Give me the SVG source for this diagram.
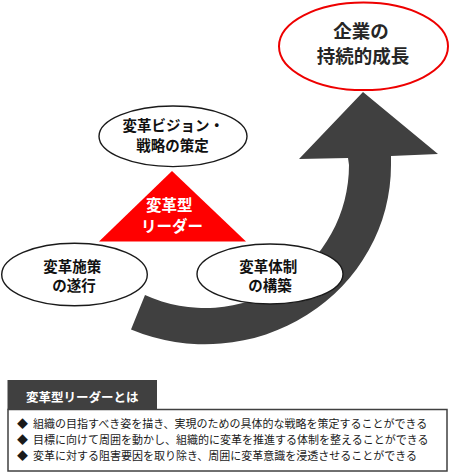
<svg xmlns="http://www.w3.org/2000/svg" width="450" height="473" viewBox="0 0 450 473">
  <style>
    .jp { font-family: "Noto Sans CJK JP", "Noto Sans", sans-serif; }
    .b { font-weight: 700; }
    .node { fill: #ffffff; stroke: #1a1a1a; stroke-width: 1.4; }
    .nt { font-size: 14.5px; fill: #111111; text-anchor: middle; }
    .bl { font-size: 11px; fill: #1a1a1a; }
  </style>
  <rect x="0" y="0" width="450" height="473" fill="#ffffff"/>

  <g id="connectors">
    <path id="growth-arrow" fill="#404040"
      d="M 299,159 L 363,92 L 438,154 L 391,156 L 391,165 A 186 179 0 0 1 131,329.5 L 145,295 A 144 143 0 0 0 349,165 L 348,158 Z"/>
  </g>

  <g id="node-goal">
    <ellipse cx="363.5" cy="46.3" rx="84.5" ry="43.8" fill="#ffffff" stroke="#ee0000" stroke-width="2"/>
    <text class="jp b" font-size="18.5" fill="#262626" text-anchor="middle">
      <tspan x="363" y="38">企業の</tspan>
      <tspan x="363" y="63">持続的成長</tspan>
    </text>
  </g>

  <g id="node-vision">
    <ellipse class="node" cx="173" cy="136.3" rx="74" ry="30.3"/>
    <text class="jp b nt">
      <tspan x="175" y="131">変革ビジョン・</tspan>
      <tspan x="172.5" y="150.5">戦略の策定</tspan>
    </text>
  </g>

  <g id="node-leader">
    <polygon points="172,171 99,241.5 246,241.5" fill="#ff0000"/>
    <text class="jp b" font-size="15.5" fill="#ffffff" text-anchor="middle">
      <tspan x="171" y="210.5">変革型</tspan>
      <tspan x="172" y="231.5">リーダー</tspan>
    </text>
  </g>

  <g id="node-execution">
    <ellipse class="node" cx="74.5" cy="274.5" rx="72.8" ry="31.3"/>
    <text class="jp b nt">
      <tspan x="74" y="271.5">変革施策</tspan>
      <tspan x="74" y="290.5">の遂行</tspan>
    </text>
  </g>

  <g id="node-structure">
    <ellipse class="node" cx="270" cy="274" rx="73" ry="30"/>
    <text class="jp b nt">
      <tspan x="270" y="271.5">変革体制</tspan>
      <tspan x="270" y="290.5">の構築</tspan>
    </text>
  </g>

  <g id="node-definition">
    <rect x="8" y="409.5" width="439" height="61.5" fill="#ffffff" stroke="#404040" stroke-width="1.5"/>
    <rect x="7.5" y="380" width="149.5" height="29.5" fill="#404040"/>
    <text class="jp b" x="26" y="401.8" font-size="12.5" fill="#ffffff">変革型リーダーとは</text>
    <text class="jp bl" y="427.7"><tspan x="17">◆</tspan><tspan x="33">組織の目指すべき姿を描き、実現のための具体的な戦略を策定することができる</tspan></text>
    <text class="jp bl" y="443.7"><tspan x="17">◆</tspan><tspan x="33">目標に向けて周囲を動かし、組織的に変革を推進する体制を整えることができる</tspan></text>
    <text class="jp bl" y="459.7"><tspan x="17">◆</tspan><tspan x="33">変革に対する阻害要因を取り除き、周囲に変革意識を浸透させることができる</tspan></text>
  </g>
</svg>
